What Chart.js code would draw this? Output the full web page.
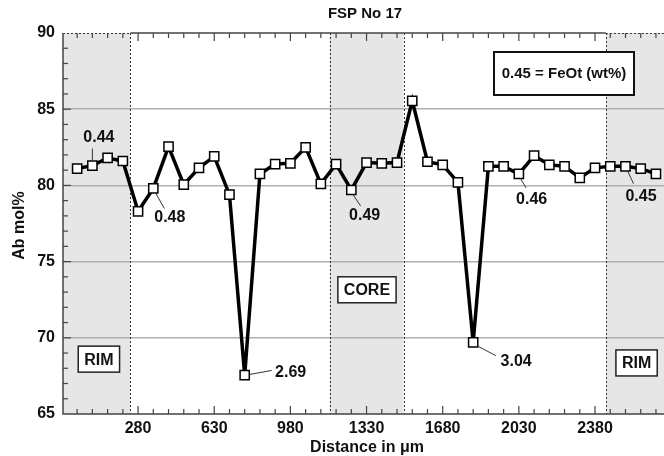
<!DOCTYPE html>
<html>
<head>
<meta charset="utf-8">
<script src="https://cdn.jsdelivr.net/npm/chart.js@4.4.1/dist/chart.umd.min.js"></script>
<style>
  html, body { margin: 0; padding: 0; background: #fff; }
  #wrap { width: 664px; height: 456px; position: relative; }
</style>
</head>
<body>
<div id="wrap"><canvas id="chart" width="664" height="456"></canvas></div>
<script>
// Profile FSP No 17: Ab mol% along the traverse
const distances = [0, 70, 140, 210, 280, 350, 420, 490, 560, 630, 700, 770, 840, 910, 980,
    1050, 1120, 1190, 1260, 1330, 1400, 1470, 1540, 1610, 1680, 1750, 1820, 1890, 1960,
    2030, 2100, 2170, 2240, 2310, 2380, 2450, 2520, 2590, 2660];
const abMol = [81.1, 81.3, 81.8, 81.6, 78.3, 79.8, 82.55, 80.05, 81.15, 81.9, 79.4, 67.55,
    80.75, 81.4, 81.45, 82.5, 80.1, 81.4, 79.7, 81.5, 81.45, 81.5, 85.55, 81.55, 81.35,
    80.2, 69.7, 81.25, 81.25, 80.75, 81.95, 81.35, 81.25, 80.5, 81.15, 81.25, 81.25, 81.1, 80.75];

// FeOt (wt%) labels and the point each belongs to
const feoLabels = ['0.44', '0.48', '2.69', '0.49', '3.04', '0.46', '0.45'];
const feoPointIndex = [1, 5, 11, 18, 26, 29, 36];

// axis ticks
const xTickValues = [280, 630, 980, 1330, 1680, 2030, 2380];
const yTickValues = [65, 70, 75, 80, 85, 90];

// zones (distance in µm)
const zoneNames = ['RIM', 'CORE', 'RIM'];
const zoneStart = [-65, 1160, 2430];
const zoneEnd = [245, 1500, 2697];
const zoneLabelX = [100, 1332, 2571];
const zoneLabelY = [68.6, 73.15, 68.35];

const FONT = '"Liberation Sans", Arial, Helvetica, sans-serif';

// leader line / text offsets (px) relative to each labelled point
const labelOffsets = {
    '0.44': [0, -5, 0, -17, 6.5, -27.5],
    '0.48': [2, 4, 11, 20, 16.5, 29],
    '2.69': [5, -0.7, 27, -4.7, 46, -2.7],
    '0.49': [1.3, 4, 9.3, 16, 13.3, 26],
    '3.04': [3.7, 3.3, 22.7, 13.3, 43, 19.3],
    '0.46': [1.3, 4, 7.3, 14, 12.8, 26],
    '0.45': [2, 4.3, 8, 17.3, 15.5, 30.3]
};

const decor = {
    id: 'decor',
    beforeDraw(chart) {
        const { ctx, chartArea: a, scales: { x } } = chart;
        ctx.save();
        ctx.fillStyle = '#fff';
        ctx.fillRect(0, 0, chart.width, chart.height);
        ctx.fillStyle = '#e6e6e6';
        zoneStart.forEach((s, i) => {
            const x0 = Math.max(x.getPixelForValue(s), a.left);
            const x1 = Math.min(x.getPixelForValue(zoneEnd[i]), a.right);
            ctx.fillRect(x0, a.top, x1 - x0, a.bottom - a.top);
        });
        ctx.restore();
    },
    beforeDatasetsDraw(chart) {
        const { ctx, chartArea: a, scales: { x, y } } = chart;
        ctx.save();
        // dotted zone borders
        ctx.strokeStyle = '#333';
        ctx.lineWidth = 1;
        ctx.setLineDash([2, 2]);
        [zoneEnd[0], zoneStart[1], zoneEnd[1], zoneStart[2]].forEach(v => {
            const px = Math.round(x.getPixelForValue(v)) + 0.5;
            ctx.beginPath();
            ctx.moveTo(px, a.top);
            ctx.lineTo(px, a.bottom);
            ctx.stroke();
        });
        // dotted top edge over rims
        [[a.left, x.getPixelForValue(zoneEnd[0])], [x.getPixelForValue(zoneStart[2]), a.right]].forEach(([p0, p1]) => {
            ctx.beginPath();
            ctx.moveTo(p0, a.top + 0.5);
            ctx.lineTo(p1, a.top + 0.5);
            ctx.stroke();
        });
        ctx.setLineDash([]);

        // frame
        ctx.strokeStyle = '#444';
        ctx.lineWidth = 1.5;
        ctx.beginPath();
        ctx.moveTo(a.left, a.top);
        ctx.lineTo(a.left, a.bottom);
        ctx.lineTo(a.right, a.bottom);
        ctx.stroke();
        ctx.beginPath();
        ctx.moveTo(x.getPixelForValue(zoneEnd[0]), a.top);
        ctx.lineTo(x.getPixelForValue(zoneStart[2]), a.top);
        ctx.stroke();

        // x ticks (bottom + top), minor every 70
        ctx.lineWidth = 1.2;
        for (let v = 0; v <= 2660; v += 70) {
            const px = x.getPixelForValue(v);
            const major = xTickValues.includes(v);
            const len = major ? 8 : 5;
            ctx.beginPath();
            ctx.moveTo(px, a.bottom);
            ctx.lineTo(px, a.bottom - len);
            ctx.moveTo(px, a.top);
            ctx.lineTo(px, a.top + len);
            ctx.stroke();
        }
        // y ticks, minor every 1
        for (let v = 66; v < 90; v++) {
            const py = y.getPixelForValue(v);
            const len = v % 5 === 0 ? 8 : 5;
            ctx.beginPath();
            ctx.moveTo(a.left, py);
            ctx.lineTo(a.left + len, py);
            ctx.stroke();
        }
        ctx.restore();
    },
    afterDatasetsDraw(chart) {
        const { ctx, chartArea: a, scales: { x, y } } = chart;
        ctx.save();
        ctx.fillStyle = '#111';
        ctx.textAlign = 'center';
        ctx.textBaseline = 'middle';

        // FeOt labels with leader lines
        feoLabels.forEach((lab, i) => {
            const k = feoPointIndex[i];
            const px = x.getPixelForValue(distances[k]);
            const py = y.getPixelForValue(abMol[k]);
            const o = labelOffsets[lab];
            ctx.strokeStyle = '#333';
            ctx.lineWidth = 1;
            ctx.beginPath();
            ctx.moveTo(px + o[0], py + o[1]);
            ctx.lineTo(px + o[2], py + o[3]);
            ctx.stroke();
            ctx.font = 'bold 16px ' + FONT;
            ctx.fillText(lab, px + o[4], py + o[5]);
        });

        // zone boxes
        ctx.font = 'bold 16px ' + FONT;
        zoneNames.forEach((name, i) => {
            const cx = x.getPixelForValue(zoneLabelX[i]);
            const cy = y.getPixelForValue(zoneLabelY[i]);
            const w = ctx.measureText(name).width + 12;
            const h = 26;
            ctx.fillStyle = '#fff';
            ctx.fillRect(cx - w / 2, cy - h / 2, w, h);
            ctx.strokeStyle = '#222';
            ctx.lineWidth = 1.5;
            ctx.strokeRect(cx - w / 2, cy - h / 2, w, h);
            ctx.fillStyle = '#111';
            ctx.fillText(name, cx, cy + 1);
        });

        // key box
        ctx.fillStyle = '#fff';
        ctx.fillRect(494, 52, 140, 43);
        ctx.strokeStyle = '#111';
        ctx.lineWidth = 2;
        ctx.strokeRect(494, 52, 140, 43);
        ctx.fillStyle = '#111';
        ctx.font = 'bold 15px ' + FONT;
        ctx.fillText('0.45 = FeOt (wt%)', 564, 74);

        // titles
        ctx.font = 'bold 15px ' + FONT;
        ctx.fillText('FSP No 17', 365, 14);
        ctx.font = 'bold 16px ' + FONT;
        ctx.fillText('Distance in \u03bcm', 367, 448);
        ctx.translate(20, (a.top + a.bottom) / 2 + 2);
        ctx.rotate(-Math.PI / 2);
        ctx.fillText('Ab mol%', 0, 0);
        ctx.restore();
    }
};

new Chart(document.getElementById('chart'), {
    type: 'line',
    data: {
        datasets: [{
            data: distances.map((d, i) => ({ x: d, y: abMol[i] })),
            borderColor: '#000',
            borderWidth: 3.5,
            tension: 0,
            pointStyle: 'rect',
            pointRadius: 6.5,
            pointBackgroundColor: '#fff',
            pointBorderColor: '#000',
            pointBorderWidth: 1.5
        }]
    },
    options: {
        responsive: false,
        animation: false,
        events: [],
        layout: { autoPadding: false, padding: { top: 33, right: 0, left: 0, bottom: 0 } },
        plugins: { legend: { display: false }, tooltip: { enabled: false } },
        scales: {
            x: {
                type: 'linear',
                min: -65,
                max: 2697,
                afterBuildTicks: s => { s.ticks = xTickValues.map(v => ({ value: v })); },
                afterFit: s => { s.height = 42; },
                grid: { display: false, drawTicks: false },
                border: { display: false },
                ticks: {
                    color: '#111', padding: 5, maxRotation: 0,
                    callback: v => String(v),
                    font: { family: FONT, size: 16, weight: 'bold' }
                }
            },
            y: {
                min: 65,
                max: 90,
                afterBuildTicks: s => { s.ticks = yTickValues.map(v => ({ value: v })); },
                afterFit: s => { s.width = 63; },
                grid: {
                    drawTicks: false,
                    lineWidth: 1.5,
                    color: c => (c.tick && (c.tick.value === 65 || c.tick.value === 90)) ? 'rgba(0,0,0,0)' : '#b0b0b0'
                },
                border: { display: false },
                ticks: {
                    color: '#111', padding: 8,
                    callback: v => String(v),
                    font: { family: FONT, size: 16, weight: 'bold' }
                }
            }
        }
    },
    plugins: [decor]
});
</script>
</body>
</html>
